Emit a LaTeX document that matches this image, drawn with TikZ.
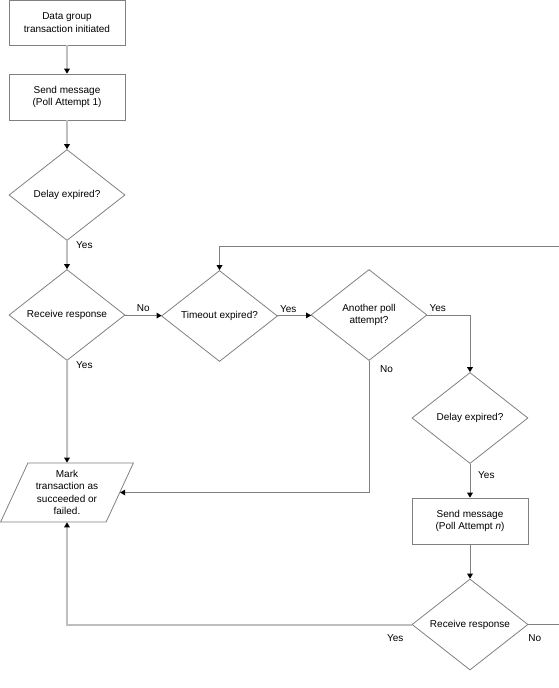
\documentclass[tikz,border=0pt]{standalone}
\usepackage{fontspec}
\setmainfont{Liberation Sans}
\usepackage{tikz}
\usetikzlibrary{arrows.meta,positioning,shapes.geometric}
\tikzset{
  box/.style={draw=gray,line width=0.8pt,minimum width=116pt,minimum height=46pt,
    inner sep=2pt,align=center},
  decision/.style={diamond,draw=gray,line width=0.8pt,minimum width=116pt,
    minimum height=91pt,inner sep=0pt,align=center},
  io/.style={trapezium,trapezium left angle=64,trapezium right angle=116,
    trapezium stretches=true,draw=gray,line width=0.8pt,minimum width=133pt,
    minimum height=59pt,inner sep=0pt,align=center},
  trunk/.style={gray!50,line width=2pt,
    -{Triangle[width=6pt,length=5pt,color=black,line width=0pt]}},
  flow/.style={gray,line width=0.8pt,
    -{Triangle[width=6pt,length=5pt,color=black,line width=0pt]}},
  lbl/.style={inner sep=2pt,text=black},
  every node/.style={font=\fontsize{10}{12.4}\selectfont}
}

\begin{document}
\begin{tikzpicture}[x=1pt,y=-1pt,line cap=butt,line join=miter]
  % ---- page window (pixel grid of the screenshot, y pointing down) ----
  \useasboundingbox (0,0) rectangle (559,688);
  \clip (0,0) rectangle (559,688);

  % ---- left column ----
  \node[box,minimum height=45pt] (start) at (67,22.5) {Data group\\transaction initiated};
  \node[box] (send1) at (67,97) {Send message\\(Poll Attempt 1)};
  \node[decision] (delay1) at (67,195) {Delay expired?};
  \node[decision] (recv1) at (67,315) {Receive response};
  \node[io] (mark) at (67,492.5) {Mark\\transaction as\\succeeded or\\failed.};

  % ---- middle row ----
  \node[decision] (timeout) at (219.5,316) {Timeout expired?};
  \node[decision] (poll) at (369,315) {Another poll\\attempt?};

  % ---- right column ----
  \node[decision] (delayn) at (470,418) {Delay expired?};
  \node[box] (sendn) at (470,521) {Send message\\(Poll Attempt \textit{n})};
  \node[decision] (recvn) at (470,624.5) {Receive response};

  % ---- loop back corner (the vertical part lies off the page) ----
  \coordinate (back) at (219.5,246);

  % ---- connectors ----
  \draw[trunk] (start) -- (send1);
  \draw[trunk] (send1) -- (delay1);
  \draw[trunk] (delay1) -- (recv1);
  \draw[trunk] (recv1) -- (mark);
  \draw[flow] (recv1) -- node[lbl,above=2pt] {No} (timeout);
  \draw[flow] (timeout) -- (poll);
  \draw[flow] (poll.east) -| (delayn);
  \draw[flow] (poll.south) |- (mark);
  \draw[flow] (delayn) -- (sendn);
  \draw[flow] (sendn) -- (recvn);
  \draw[trunk] (recvn) -| (mark);
  \draw[flow] (recvn.east) -- ++(50,0) |- (back) -- (timeout);

  % ---- branch labels ----
  \node[lbl,anchor=north west] at ([shift={(7pt,1.6pt)}]delay1.south) {Yes};
  \node[lbl,anchor=north west] at ([shift={(7pt,1.6pt)}]recv1.south) {Yes};
  \node[lbl,anchor=south west] at ([shift={(0pt,1pt)}]timeout.east) {Yes};
  \node[lbl,anchor=south west] at ([shift={(0pt,1pt)}]poll.east) {Yes};
  \node[lbl,anchor=north west] at ([shift={(9pt,-2.4pt)}]poll.south) {No};
  \node[lbl,anchor=north west] at ([shift={(6pt,-5.4pt)}]delayn.south) {Yes};
  \node[lbl,anchor=north east] at ([shift={(-6pt,-8pt)}]recvn.west) {Yes};
  \node[lbl,anchor=north west] at ([shift={(-2.3pt,-8pt)}]recvn.east) {No};
\end{tikzpicture}
\end{document}
